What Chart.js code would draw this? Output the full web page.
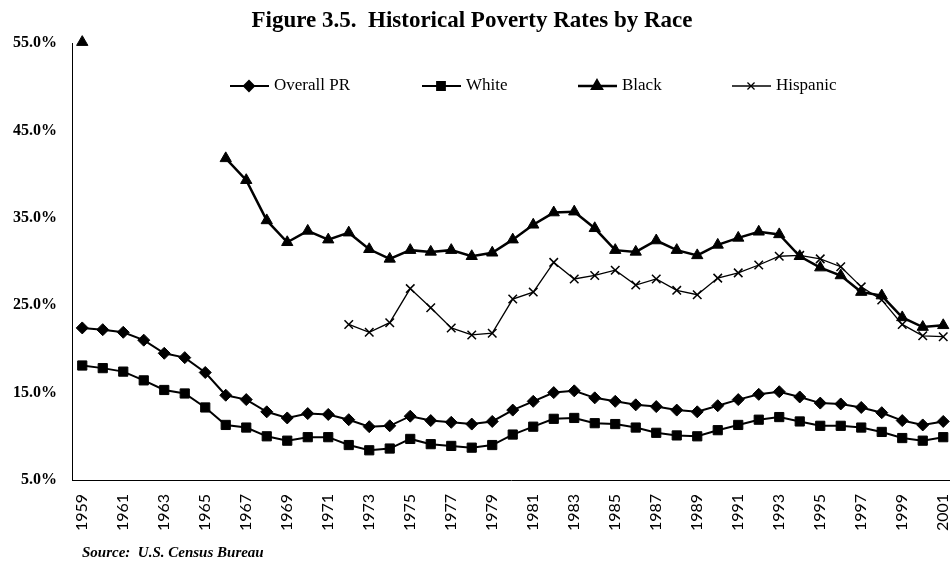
<!DOCTYPE html>
<html>
<head>
<meta charset="utf-8">
<title>Historical Poverty Rates by Race</title>
<script src="https://cdn.jsdelivr.net/npm/chart.js@4.4.1/dist/chart.umd.min.js"></script>
<style>
  html, body { margin: 0; padding: 0; background: #fff; overflow: hidden; }
  canvas { display: block; }
</style>
</head>
<body>
<canvas id="povertyChart" width="950" height="563"></canvas>
<script>
// Annual poverty rates (%), 1959-2001. null = no estimate published that year.
const years = [
  1959, 1960, 1961, 1962, 1963, 1964, 1965, 1966, 1967, 1968, 1969,
  1970, 1971, 1972, 1973, 1974, 1975, 1976, 1977, 1978, 1979,
  1980, 1981, 1982, 1983, 1984, 1985, 1986, 1987, 1988, 1989,
  1990, 1991, 1992, 1993, 1994, 1995, 1996, 1997, 1998, 1999,
  2000, 2001
];
const overallPR = [
  22.4, 22.2, 21.9, 21.0, 19.5, 19.0, 17.3, 14.7, 14.2, 12.8, 12.1,
  12.6, 12.5, 11.9, 11.1, 11.2, 12.3, 11.8, 11.6, 11.4, 11.7,
  13.0, 14.0, 15.0, 15.2, 14.4, 14.0, 13.6, 13.4, 13.0, 12.8,
  13.5, 14.2, 14.8, 15.1, 14.5, 13.8, 13.7, 13.3, 12.7, 11.8,
  11.3, 11.7
];
const white = [
  18.1, 17.8, 17.4, 16.4, 15.3, 14.9, 13.3, 11.3, 11.0, 10.0, 9.5,
  9.9, 9.9, 9.0, 8.4, 8.6, 9.7, 9.1, 8.9, 8.7, 9.0,
  10.2, 11.1, 12.0, 12.1, 11.5, 11.4, 11.0, 10.4, 10.1, 10.0,
  10.7, 11.3, 11.9, 12.2, 11.7, 11.2, 11.2, 11.0, 10.5, 9.8,
  9.5, 9.9
];
const black = [
  55.1, null, null, null, null, null, null, 41.8, 39.3, 34.7, 32.2,
  33.5, 32.5, 33.3, 31.4, 30.3, 31.3, 31.1, 31.3, 30.6, 31.0,
  32.5, 34.2, 35.6, 35.7, 33.8, 31.3, 31.1, 32.4, 31.3, 30.7,
  31.9, 32.7, 33.4, 33.1, 30.6, 29.3, 28.4, 26.5, 26.1, 23.6,
  22.5, 22.7
];
const hispanic = [
  null, null, null, null, null, null, null, null, null, null, null,
  null, null, 22.8, 21.9, 23.0, 26.9, 24.7, 22.4, 21.6, 21.8,
  25.7, 26.5, 29.9, 28.0, 28.4, 29.0, 27.3, 28.0, 26.7, 26.2,
  28.1, 28.7, 29.6, 30.6, 30.7, 30.3, 29.4, 27.1, 25.6, 22.8,
  21.5, 21.4
];
const xTickYears = [
  1959, 1961, 1963, 1965, 1967, 1969, 1971, 1973, 1975, 1977, 1979,
  1981, 1983, 1985, 1987, 1989, 1991, 1993, 1995, 1997, 1999, 2001
];
const yTicks = [5, 15, 25, 35, 45, 55];

const titleText = 'Figure 3.5.  Historical Poverty Rates by Race';
const sourceText = 'Source:  U.S. Census Bureau';

const SERIF = '"Liberation Serif", "DejaVu Serif", serif';

function toPoints(values) {
  return years.map((yr, i) => ({ x: yr, y: values[i] }));
}

// title, in-plot legend (line + marker + name) and source note
const decorPlugin = {
  id: 'decor',
  afterDraw(chart) {
    const ctx = chart.ctx;
    ctx.save();
    ctx.fillStyle = '#000';
    ctx.textBaseline = 'middle';

    ctx.font = 'bold 23px ' + SERIF;
    ctx.textAlign = 'center';
    ctx.fillText(titleText, 472, 21);

    const legendX = [230, 422, 578, 732];
    const legendY = 86;
    ctx.font = '17px ' + SERIF;
    ctx.textAlign = 'left';
    chart.data.datasets.forEach((ds, i) => {
      const x0 = legendX[i];
      ctx.strokeStyle = '#000';
      ctx.lineWidth = ds.borderWidth;
      ctx.beginPath();
      ctx.moveTo(x0, legendY);
      ctx.lineTo(x0 + 39, legendY);
      ctx.stroke();
      ctx.fillStyle = '#000';
      Chart.helpers.drawPoint(ctx, {
        pointStyle: ds.pointStyle,
        radius: ds.pointRadius - 1,
        rotation: 0,
        borderWidth: ds.pointBorderWidth
      }, x0 + 19, legendY);
      ctx.fillText(ds.label, x0 + 44, legendY);
    });

    ctx.font = 'italic bold 15px ' + SERIF;
    ctx.fillText(sourceText, 82, 553);
    ctx.restore();
  }
};

function initializePovertyChart() {
  const canvas = document.getElementById('povertyChart');
  if (!canvas) {
    console.error('#povertyChart introuvable');
    return;
  }

  new Chart(canvas, {
    type: 'line',
    data: {
      datasets: [
        {
          label: 'Overall PR',
          data: toPoints(overallPR),
          borderColor: '#000',
          backgroundColor: '#000',
          borderWidth: 2,
          pointStyle: 'rectRot',
          pointRadius: 6,
          pointBorderWidth: 1,
          clip: false
        },
        {
          label: 'White',
          data: toPoints(white),
          borderColor: '#000',
          backgroundColor: '#000',
          borderWidth: 2,
          pointStyle: 'rect',
          pointRadius: 6.5,
          pointBorderWidth: 1,
          clip: false
        },
        {
          label: 'Black',
          data: toPoints(black),
          borderColor: '#000',
          backgroundColor: '#000',
          borderWidth: 2.5,
          pointStyle: 'triangle',
          pointRadius: 6.5,
          pointBorderWidth: 1,
          clip: false
        },
        {
          label: 'Hispanic',
          data: toPoints(hispanic),
          borderColor: '#000',
          backgroundColor: '#000',
          borderWidth: 1.3,
          pointStyle: 'crossRot',
          pointRadius: 6,
          pointBorderWidth: 1.5,
          clip: false
        }
      ]
    },
    options: {
      responsive: false,
      animation: false,
      spanGaps: false,
      // no automatic room for marker overflow: the plot runs to the canvas edge
      layout: { autoPadding: false, padding: { top: 43, right: 0, bottom: 0, left: 0 } },
      plugins: {
        legend: { display: false },
        title: { display: false },
        tooltip: { enabled: false }
      },
      scales: {
        x: {
          type: 'linear',
          min: 1958.5,
          max: 2001.33,
          grid: { display: false },
          border: { display: true, color: '#000', width: 1 },
          afterBuildTicks: (scale) => {
            scale.ticks = xTickYears.map(v => ({ value: v }));
          },
          afterFit: (scale) => {
            scale.height = 83;
            scale.paddingLeft = 0;
            scale.paddingRight = 0;
          },
          ticks: {
            autoSkip: false,
            minRotation: 90,
            maxRotation: 90,
            padding: 6,
            color: '#000',
            font: { family: 'Lato', size: 16 },
            callback: (value) => String(value)
          }
        },
        y: {
          min: 5,
          max: 55,
          grid: { display: false },
          border: { display: true, color: '#000', width: 1 },
          afterBuildTicks: (scale) => {
            scale.ticks = yTicks.map(v => ({ value: v }));
          },
          afterFit: (scale) => { scale.width = 72; },
          ticks: {
            padding: 7,
            color: '#000',
            font: { family: SERIF, size: 16, weight: 'bold' },
            callback: (value) => value.toFixed(1) + '%'
          }
        }
      }
    },
    plugins: [decorPlugin]
  });
}

if (document.readyState === 'complete') {
  initializePovertyChart();
} else {
  document.addEventListener('DOMContentLoaded', initializePovertyChart);
}
</script>
</body>
</html>
